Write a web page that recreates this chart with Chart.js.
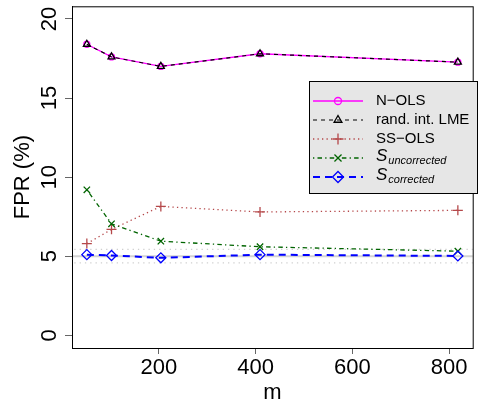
<!DOCTYPE html>
<html>
<head>
<meta charset="utf-8">
<script src="https://cdn.jsdelivr.net/npm/chart.js@4.4.1/dist/chart.umd.min.js"></script>
<style>
  html, body { margin: 0; padding: 0; background: #ffffff; }
  #wrap { width: 479px; height: 401px; position: relative; }
</style>
</head>
<body>
<div id="wrap"><canvas id="c" width="479" height="401"></canvas></div>
<script>
// ---- data ----
const mValues   = [51, 102, 204, 409, 818];
const nOLS      = [18.4, 17.6, 17.0, 17.8, 17.27];
const randIntLME= [18.4, 17.6, 17.0, 17.8, 17.27];
const ssOLS     = [5.8, 6.7, 8.15, 7.8, 7.9];
const sUncorr   = [9.2, 7.05, 5.95, 5.6, 5.32];
const sCorr     = [5.1, 5.05, 4.9, 5.1, 5.02];
const nominalLevel = [5];
const ciBounds  = [4.58, 5.43];
const xTickVals = [200, 400, 600, 800];
const yTickVals = [0, 5, 10, 15, 20];
const seriesNames = ["N\u2212OLS", "rand. int. LME", "SS\u2212OLS", "S", "S"];
const seriesSubs  = ["", "", "", "uncorrected", "corrected"];
const xTitle = "m";
const yTitle = "FPR (%)";

// axis limits as R computes them (4% extension)
const xr = mValues[mValues.length-1] - mValues[0];
const xMin = mValues[0] - 0.04*xr, xMax = mValues[mValues.length-1] + 0.04*xr;
const yr = yTickVals[yTickVals.length-1] - yTickVals[0];
const yMin = yTickVals[0] - 0.04*yr, yMax = yTickVals[yTickVals.length-1] + 0.04*yr;

const pts = arr => arr.map((v,i) => ({x: mValues[i], y: v}));
const hline = v => [{x: xMin - 50, y: v}, {x: xMax + 50, y: v}];

const FONT = "'Liberation Sans', Arial, Helvetica, sans-serif";
const styles = [
  {color:'#FF00FF', dash:[], width:1.3, point:'circle', r:3},
  {color:'#000000', dash:[4,4], width:1.2, point:'triangle', r:4},
  {color:'#B5484A', dash:[1.3,3.2], width:1.3, point:'cross', r:5},
  {color:'#006400', dash:[1.3,3.2,4.5,3.2], width:1.3, point:'crossRot', r:4.5},
  {color:'#0000FF', dash:[7,5], width:2, point:'rectRot', r:5}
];
const seriesData = [nOLS, randIntLME, ssOLS, sUncorr, sCorr];

const datasets = [];
// reference lines
datasets.push({data: hline(nominalLevel[0]), borderColor:'#d3d3d3', borderWidth:2, pointRadius:0, order:20});
ciBounds.forEach(b => datasets.push({data: hline(b), borderColor:'#cfcfcf', borderWidth:1.3, borderDash:[1.3,4], pointRadius:0, order:19}));
seriesData.forEach((d,i) => {
  const s = styles[i];
  datasets.push({
    label: seriesNames[i] + seriesSubs[i],
    data: pts(d),
    borderColor: s.color, borderWidth: s.width, borderDash: s.dash,
    pointStyle: s.point, pointRadius: s.r, pointBorderColor: s.color,
    pointBackgroundColor: 'rgba(0,0,0,0)', pointBorderWidth: 1.3,
    tension: 0, fill: false, order: 10 - i
  });
});

const boxPlugin = {
  id: 'rbox',
  afterDraw(chart) {
    const ctx = chart.ctx, a = chart.chartArea;
    ctx.save();
    ctx.strokeStyle = '#000'; ctx.lineWidth = 1;
    ctx.strokeRect(a.left + 0.5, a.top + 0.5, a.right - a.left, a.bottom - a.top);
    ctx.restore();
    // y tick labels rotated (R style)
    const ys = chart.scales.y;
    yTickVals.forEach(v => {
      const py = ys.getPixelForValue(v);
      ctx.save();
      ctx.setTransform(0, -1, 1, 0, 56, py);
      ctx.fillStyle = '#000';
      ctx.font = '22px ' + FONT;
      ctx.textAlign = 'center';
      ctx.textBaseline = 'alphabetic';
      ctx.fillText(String(v), 0, 0);
      ctx.restore();
    });
    // legend
    ctx.save();
    const lx = 309, ly = 81, lw = 168, lh = 112;
    ctx.fillStyle = '#e6e6e6';
    ctx.fillRect(lx, ly, lw, lh);
    ctx.strokeStyle = '#000'; ctx.lineWidth = 1;
    ctx.strokeRect(lx + 0.5, ly + 0.5, lw, lh);
    seriesData.forEach((d,i) => {
      const s = styles[i];
      const cy = 101 + i*19;
      ctx.save();
      ctx.strokeStyle = s.color; ctx.lineWidth = s.width;
      ctx.setLineDash(s.dash);
      ctx.beginPath(); ctx.moveTo(313, cy); ctx.lineTo(363, cy); ctx.stroke();
      ctx.setLineDash([]);
      ctx.lineWidth = 1.3;
      ctx.fillStyle = 'rgba(0,0,0,0)';
      Chart.helpers.drawPoint(ctx, {pointStyle: s.point, radius: s.r + 0.5, borderWidth: 1.3}, 338, cy);
      ctx.restore();
      ctx.fillStyle = '#000';
      ctx.textAlign = 'left';
      ctx.textBaseline = 'middle';
      if (seriesSubs[i]) {
        ctx.font = 'italic 17px ' + FONT;
        ctx.fillText(seriesNames[i], 376, cy - 2);
        const w = ctx.measureText(seriesNames[i]).width;
        ctx.font = 'italic 11px ' + FONT;
        ctx.fillText(seriesSubs[i], 376 + w + 1, cy + 3);
      } else {
        ctx.font = '15px ' + FONT;
        ctx.fillText(seriesNames[i], 376, cy);
      }
    });
    ctx.restore();
  }
};

new Chart(document.getElementById('c'), {
  type: 'line',
  data: { datasets },
  options: {
    responsive: false,
    animation: false,
    events: [],
    layout: { padding: { top: 6, right: 0, left: 0, bottom: 0 } },
    plugins: { legend: { display: false }, tooltip: { enabled: false }, title: { display: false } },
    scales: {
      x: {
        type: 'linear', min: xMin, max: xMax,
        afterBuildTicks: sc => { sc.ticks = xTickVals.map(v => ({value: v})); },
        afterFit: sc => { sc.height = 53; },
        grid: { drawOnChartArea: false, drawTicks: true, tickLength: 6, color: '#666', tickColor:'#666' },
        border: { display: true, color: '#000', width: 1 },
        ticks: { color: '#000', font: { size: 22, family: FONT }, padding: 1, maxRotation: 0, autoSkip: false, callback: v => String(v) },
        title: { display: true, text: xTitle, color: '#000', font: { size: 22, family: FONT }, padding: { top: 0, bottom: -5 } }
      },
      y: {
        type: 'linear', min: yMin, max: yMax,
        afterBuildTicks: sc => { sc.ticks = yTickVals.map(v => ({value: v})); },
        afterFit: sc => { sc.width = 72; },
        grid: { drawOnChartArea: false, drawTicks: true, tickLength: 7, color: '#666', tickColor:'#666' },
        border: { display: true, color: '#000', width: 1 },
        ticks: { display: false },
        title: { display: true, text: yTitle, color: '#000', font: { size: 22, family: FONT }, padding: { top: 10, bottom: 0 } }
      }
    }
  },
  plugins: [boxPlugin]
});
</script>
</body>
</html>
